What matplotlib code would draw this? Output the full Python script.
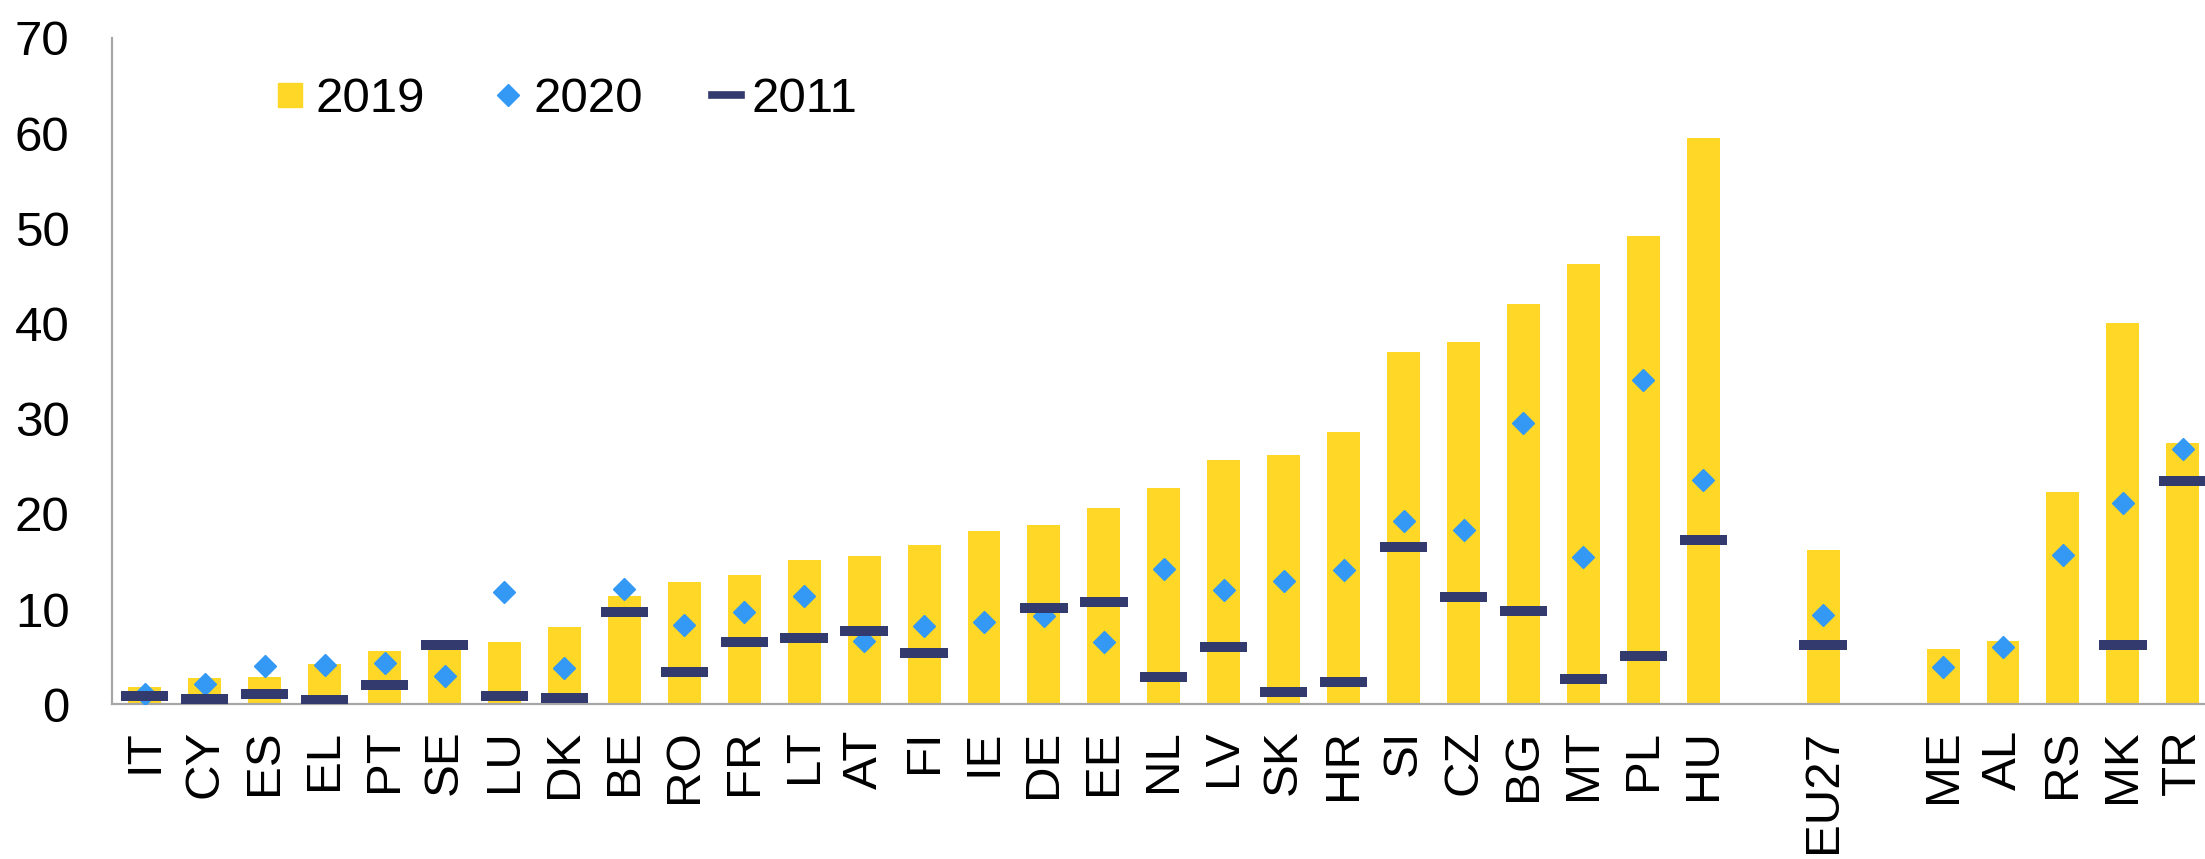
import numpy as np
import matplotlib
matplotlib.use("Agg")
import matplotlib.pyplot as plt
from matplotlib.lines import Line2D

nan = np.nan

# empty strings are the gaps around EU27
countries = ["IT", "CY", "ES", "EL", "PT", "SE", "LU", "DK", "BE", "RO",
             "FR", "LT", "AT", "FI", "IE", "DE", "EE", "NL", "LV", "SK",
             "HR", "SI", "CZ", "BG", "MT", "PL", "HU", "", "EU27", "",
             "ME", "AL", "RS", "MK", "TR"]
v2019 = [1.8, 2.8, 2.9, 4.2, 5.6, 6.2, 6.5, 8.1, 11.4, 12.9,
         13.6, 15.2, 15.6, 16.7, 18.2, 18.8, 20.6, 22.7, 25.7, 26.2,
         28.6, 37.0, 38.1, 42.0, 46.2, 49.2, 59.5, nan, 16.2, nan,
         5.8, 6.7, 22.3, 40.1, 27.5]
v2020 = [1.1, 2.1, 4.0, 4.1, 4.3, 3.0, 11.8, 3.8, 12.1, 8.3,
         9.7, 11.4, 6.7, 8.2, 8.6, 9.3, 6.6, 14.2, 12.0, 13.0,
         14.1, 19.3, 18.3, 29.5, 15.5, 34.1, 23.6, nan, 9.4, nan,
         3.9, 6.0, 15.7, 21.1, 26.8]
v2011 = [0.9, 0.6, 1.1, 0.5, 2.0, 6.25, 0.9, 0.7, 9.7, 3.4,
         6.6, 7.0, 7.7, 5.4, nan, 10.1, 10.8, 2.9, 6.0, 1.3,
         2.3, 16.5, 11.3, 9.8, 2.7, 5.1, 17.3, nan, 6.25, nan,
         nan, nan, nan, 6.2, 23.5]

YELLOW = "#FFD727"
BLUE = "#3399F5"
NAVY = "#333A6E"
GREY = "#A6A6A6"

plt.rcParams["font.family"] = ["Liberation Sans", "DejaVu Sans"]
plt.rcParams["font.size"] = 35.5

fig = plt.figure(figsize=(22.05, 8.59), dpi=100)
ax = fig.add_axes([0.051, 0.180, 0.949, 0.776])

x = np.arange(len(countries))
ax.bar(x, v2019, width=0.55, color=YELLOW, zorder=2)
ax.plot(x, v2020, ls="none", marker="D", ms=11.5, color=BLUE, zorder=3)
ax.hlines(v2011, x - 0.395, x + 0.395, color=NAVY, lw=7.2, zorder=4)

ax.set_xlim(-0.54, len(countries) - 1 + 0.37)
ax.set_ylim(0, 70)
ax.set_yticks(np.arange(0, 71, 10))
ax.set_xticks(x)
ax.set_xticklabels(countries, rotation=90)
ax.tick_params(axis="both", length=0)
ax.tick_params(axis="y", pad=31)
ax.tick_params(axis="x", pad=18)

for side in ("top", "right"):
    ax.spines[side].set_visible(False)
for side in ("left", "bottom"):
    ax.spines[side].set_color(GREY)
    ax.spines[side].set_linewidth(1.6)

handles = [
    Line2D([], [], ls="none", marker="s", ms=17, color=YELLOW),
    Line2D([], [], ls="none", marker="D", ms=11.5, color=BLUE),
    Line2D([], [], color=NAVY, lw=5.5),
]
ax.legend(handles, ["2019", "2020", "2011"], ncol=3, frameon=False,
          loc="center left", bbox_to_anchor=(0.078, 0.907),
          borderaxespad=0, borderpad=0, handlelength=0.6,
          handletextpad=0.2, columnspacing=1.4)

fig.savefig("out.png", dpi=100)
